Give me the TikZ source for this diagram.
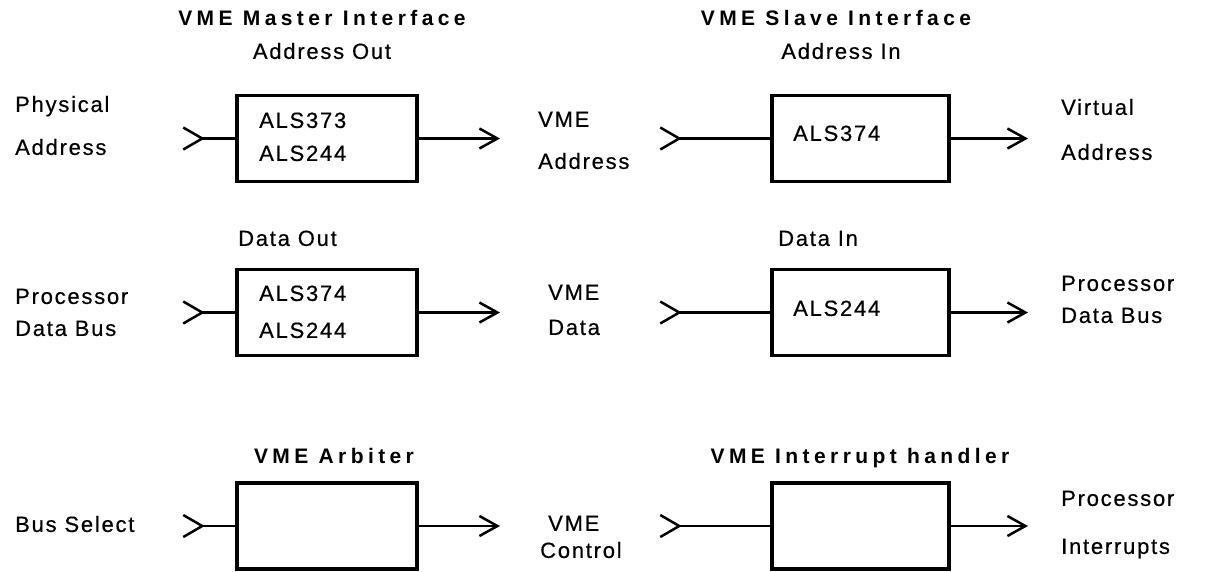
\documentclass[tikz,border=0pt]{standalone}
\usepackage{fontspec}
\setmainfont{Liberation Sans}
\newfontfamily\lblfont[LetterSpace=8, FakeBold=0.5]{Liberation Sans}
\newfontfamily\ttlfont[LetterSpace=21]{Liberation Sans}
\usetikzlibrary{arrows.meta}
\begin{document}
\begin{tikzpicture}[x=1pt,y=-1pt,
  lbl/.style={font=\lblfont\fontsize{22}{24}\selectfont, inner sep=0pt, text height=15.8pt, text depth=0pt, anchor=west},
  sub/.style={lbl, anchor=center},
  ttl/.style={font=\ttlfont\bfseries\fontsize{21}{23}\selectfont, inner sep=0pt, text height=15pt, text depth=0pt},
  blk/.style={draw, line width=3.5pt, minimum height=86pt, inner sep=0pt},
  lblk/.style={blk, minimum width=180pt},
  rblk/.style={blk, minimum width=177pt},
  conn/.style={line width=2.5pt},
  outarr/.style={conn, -{Straight Barb[length=18pt, width=20pt, line width=2.5pt]}},
  inarr/.style={conn, {Straight Barb[reversed, length=19pt, width=22pt, line width=2.5pt]}-}
]
\useasboundingbox (0,0) rectangle (1205,571);

% ---------------- Row 1 ----------------
\node[ttl] (tm) at (322,18) {VME Master Interface};
\node[ttl] (ts) at (836,18) {VME Slave Interface};
\node[sub] (sao) at (322,51) {Address Out};
\node[sub] (sai) at (841,51) {Address In};

\node[lblk] (m1) at (327,138.5) {};
\node[rblk] (s1) at (860.5,138.5) {};
\node[lbl] (m1a) at (259,120) {ALS373};
\node[lbl] (m1b) at (259,153) {ALS244};
\node[lbl] (s1a) at (793,133) {ALS374};

\node[lbl] (pa1) at (15,104) {Physical};
\node[lbl] (pa2) at (15,147) {Address};
\node[lbl] (va1) at (538,119) {VME};
\node[lbl] (va2) at (538,161) {Address};
\node[lbl] (vi1) at (1061,107) {Virtual};
\node[lbl] (vi2) at (1061,152) {Address};

\coordinate (i1) at (182,138.5);
\coordinate (o1) at (500,138.5);
\coordinate (i1r) at (659,138.5);
\coordinate (o1r) at (1028,138.5);
\draw[inarr] (i1) -- (m1.west);
\draw[outarr] (m1.east) -- (o1);
\draw[inarr] (i1r) -- (s1.west);
\draw[outarr] (s1.east) -- (o1r);

% ---------------- Row 2 ----------------
\node[lbl] (sdo) at (238,238) {Data Out};
\node[lbl] (sdi) at (778,238) {Data In};

\node[lblk] (m2) at (327,312.5) {};
\node[rblk] (s2) at (860.5,312.5) {};
\node[lbl] (m2a) at (259,293) {ALS374};
\node[lbl] (m2b) at (259,330) {ALS244};
\node[lbl] (s2a) at (793,308) {ALS244};

\node[lbl] (pd1) at (15,296) {Processor};
\node[lbl] (pd2) at (15,328) {Data Bus};
\node[lbl] (vd1) at (548,292) {VME};
\node[lbl] (vd2) at (548,327) {Data};
\node[lbl] (rp1) at (1061,283) {Processor};
\node[lbl] (rp2) at (1061,315) {Data Bus};

\coordinate (i2) at (182,312.5);
\coordinate (o2) at (500,312.5);
\coordinate (i2r) at (659,312.5);
\coordinate (o2r) at (1028,312.5);
\draw[inarr] (i2) -- (m2.west);
\draw[outarr] (m2.east) -- (o2);
\draw[inarr] (i2r) -- (s2.west);
\draw[outarr] (s2.east) -- (o2r);

% ---------------- Row 3 ----------------
\node[ttl] (tarb) at (334,456) {VME Arbiter};
\node[ttl] (tint) at (860,456) {VME Interrupt handler};

\node[lblk] (m3) at (327,526) {};
\node[rblk] (s3) at (860.5,526) {};

\node[lbl] (bs) at (15,524) {Bus Select};
\node[lbl] (vc1) at (548,523) {VME};
\node[lbl] (vc2) at (540,550) {Control};
\node[lbl] (pi1) at (1061,498) {Processor};
\node[lbl] (pi2) at (1061,546) {Interrupts};

\coordinate (i3) at (182,526);
\coordinate (o3) at (500,526);
\coordinate (i3r) at (659,526);
\coordinate (o3r) at (1028,526);
\draw[inarr] (i3) -- (m3.west);
\draw[outarr] (m3.east) -- (o3);
\draw[inarr] (i3r) -- (s3.west);
\draw[outarr] (s3.east) -- (o3r);
\end{tikzpicture}
\end{document}
